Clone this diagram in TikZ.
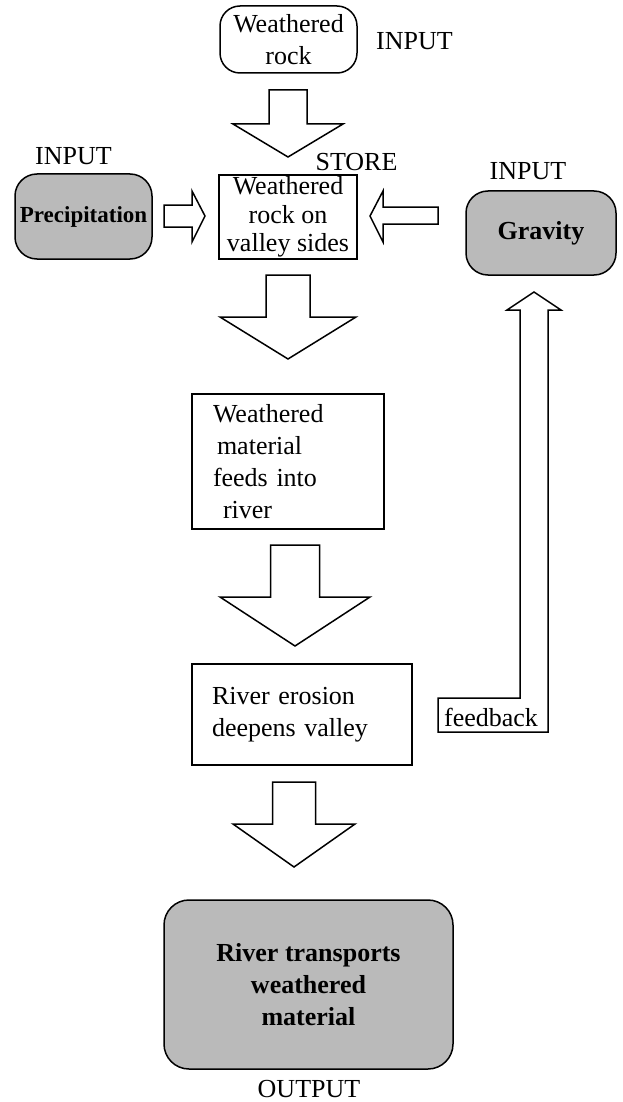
\documentclass[tikz,border=0pt]{standalone}
\usepackage{fontspec}
\setmainfont{Liberation Serif}
\usetikzlibrary{calc}

\begin{document}
\begin{tikzpicture}[x=1pt,y=-1pt,line width=1.5pt,line join=miter,
    every node/.style={inner sep=0pt,font=\fontsize{26}{32}\selectfont},
    box/.style={draw,rectangle,line width=1.5pt},
    roundbox/.style={box,rounded corners=20pt},
    shaded/.style={roundbox,rounded corners=22pt,fill=black!27,
      font=\fontsize{26}{32}\selectfont\bfseries}]
  \useasboundingbox[fill=white] (0,0) rectangle (623,1102);

  % boxes
  \node[roundbox,minimum width=137,minimum height=67,align=center] (rock) at (288.5,39.5) {Weathered\\rock};
  \node (inTop) at (414.5,41) {INPUT};
  \node (inLeft) at (73.5,156) {INPUT};
  \node[shaded,minimum width=137,minimum height=85,
    font=\fontsize{23}{28}\selectfont\bfseries] (precip) at (83.5,216.5) {Precipitation};
  \node[box,minimum width=138,minimum height=84,align=center,
    font=\fontsize{26}{28.5}\selectfont] (store) at (288,217) {Weathered\\rock on\\valley sides};
  \node (storeTag) at (356.5,162) {STORE};
  \node (inRight) at (528,171) {INPUT};
  \node[shaded,minimum width=150,minimum height=84] (gravity) at (541,233) {Gravity};
  \node[box,minimum width=192,minimum height=135,text width=150,align=left] (feeds) at (288,461.5)
    {Weathered\\\hspace*{4pt}material\\feeds into\\\hspace*{10pt}river};
  \node[box,minimum width=220,minimum height=101,text width=180,align=left] (erosion) at (302,714.5)
    {River erosion\\deepens valley};
  \node[shaded,rounded corners=25pt,minimum width=289,minimum height=169,align=center] (out) at (308.5,984.5)
    {River transports\\weathered\\material};
  \node (outTag) at (309,1089) {OUTPUT};
  \node (fb) at (491,717) {feedback};

  % block arrows down
  \foreach \cx/\ya/\yb/\yc/\sw/\hw in {288/90/124/157/19/55,288/275/317/359/22/68,
      295/545/597/646/24.5/75,294/782/824/867/21.5/61} {
    \draw (\cx-\sw,\ya) -- (\cx+\sw,\ya) -- (\cx+\sw,\yb) -- (\cx+\hw,\yb) -- (\cx,\yc)
      -- (\cx-\hw,\yb) -- (\cx-\sw,\yb) -- cycle;
  }

  % side arrows into the store
  \draw (164,205) -- (192,205) -- (192,191) -- (205,216) -- (192,242) -- (192,227) -- (164,227) -- cycle;
  \draw (438,207) -- (383,207) -- (383,191) -- (370,216) -- (383,242) -- (383,224) -- (438,224) -- cycle;

  % feedback
  \draw (438,732) -- (438,698) -- (520,698) -- (520,310) -- (507,310) -- (534,292) -- (561,310)
    -- (548,310) -- (548,732) -- cycle;
\end{tikzpicture}
\end{document}
